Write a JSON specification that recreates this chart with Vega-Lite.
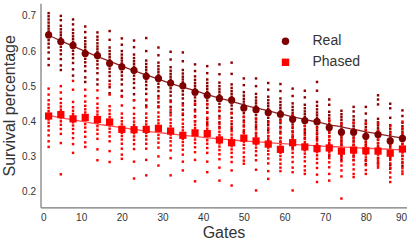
{
"$schema":"https://vega.github.io/schema/vega-lite/v6.json",
"width":366,"height":204,
"autosize":"none",
"padding":{"left":40.5,"top":3.3,"right":9.5,"bottom":33.7},
"background":"white",
"config":{"view":{"stroke":null},"font":"Liberation Sans",
"axis":{"grid":false,"ticks":false,"domainColor":"#777","domainWidth":1.2,"labelFont":"Liberation Sans","labelFontSize":10,"labelColor":"#333","labelPadding":5,"titleFont":"Liberation Sans","titleFontSize":16,"titleFontWeight":"normal","titleColor":"#333"}},
"datasets":{
"real":[
{"g":2,"v":0.708},{"g":2,"v":0.699},{"g":2,"v":0.690},{"g":2,"v":0.681},{"g":2,"v":0.672},{"g":2,"v":0.664},{"g":2,"v":0.656},{"g":2,"v":0.649},{"g":2,"v":0.640},{"g":2,"v":0.631},{"g":2,"v":0.621},{"g":2,"v":0.610},{"g":2,"v":0.596},{"g":2,"v":0.578},{"g":2,"v":0.560},
{"g":5,"v":0.700},{"g":5,"v":0.688},{"g":5,"v":0.672},{"g":5,"v":0.662},{"g":5,"v":0.653},{"g":5,"v":0.645},{"g":5,"v":0.637},{"g":5,"v":0.630},{"g":5,"v":0.621},{"g":5,"v":0.612},{"g":5,"v":0.602},{"g":5,"v":0.591},{"g":5,"v":0.577},{"g":5,"v":0.559},{"g":5,"v":0.546},
{"g":8,"v":0.690},{"g":8,"v":0.676},{"g":8,"v":0.661},{"g":8,"v":0.651},{"g":8,"v":0.642},{"g":8,"v":0.634},{"g":8,"v":0.626},{"g":8,"v":0.619},{"g":8,"v":0.610},{"g":8,"v":0.601},{"g":8,"v":0.591},{"g":8,"v":0.580},{"g":8,"v":0.566},{"g":8,"v":0.548},{"g":8,"v":0.530},
{"g":11,"v":0.670},{"g":11,"v":0.654},{"g":11,"v":0.638},{"g":11,"v":0.628},{"g":11,"v":0.619},{"g":11,"v":0.611},{"g":11,"v":0.603},{"g":11,"v":0.596},{"g":11,"v":0.587},{"g":11,"v":0.578},{"g":11,"v":0.568},{"g":11,"v":0.557},{"g":11,"v":0.543},{"g":11,"v":0.525},{"g":11,"v":0.512},
{"g":14,"v":0.653},{"g":14,"v":0.641},{"g":14,"v":0.632},{"g":14,"v":0.622},{"g":14,"v":0.613},{"g":14,"v":0.605},{"g":14,"v":0.597},{"g":14,"v":0.590},{"g":14,"v":0.581},{"g":14,"v":0.572},{"g":14,"v":0.562},{"g":14,"v":0.551},{"g":14,"v":0.537},{"g":14,"v":0.519},{"g":14,"v":0.505},
{"g":17,"v":0.657},{"g":17,"v":0.632},{"g":17,"v":0.610},{"g":17,"v":0.600},{"g":17,"v":0.591},{"g":17,"v":0.583},{"g":17,"v":0.575},{"g":17,"v":0.568},{"g":17,"v":0.559},{"g":17,"v":0.550},{"g":17,"v":0.540},{"g":17,"v":0.529},{"g":17,"v":0.515},{"g":17,"v":0.497},{"g":17,"v":0.480},
{"g":20,"v":0.636},{"g":20,"v":0.618},{"g":20,"v":0.600},{"g":20,"v":0.590},{"g":20,"v":0.581},{"g":20,"v":0.573},{"g":20,"v":0.565},{"g":20,"v":0.558},{"g":20,"v":0.549},{"g":20,"v":0.540},{"g":20,"v":0.530},{"g":20,"v":0.519},{"g":20,"v":0.505},{"g":20,"v":0.487},{"g":20,"v":0.472},
{"g":23,"v":0.630},{"g":23,"v":0.611},{"g":23,"v":0.590},{"g":23,"v":0.580},{"g":23,"v":0.571},{"g":23,"v":0.563},{"g":23,"v":0.555},{"g":23,"v":0.548},{"g":23,"v":0.539},{"g":23,"v":0.530},{"g":23,"v":0.520},{"g":23,"v":0.509},{"g":23,"v":0.495},{"g":23,"v":0.477},{"g":23,"v":0.460},
{"g":26,"v":0.637},{"g":26,"v":0.600},{"g":26,"v":0.573},{"g":26,"v":0.563},{"g":26,"v":0.554},{"g":26,"v":0.546},{"g":26,"v":0.538},{"g":26,"v":0.531},{"g":26,"v":0.522},{"g":26,"v":0.513},{"g":26,"v":0.503},{"g":26,"v":0.492},{"g":26,"v":0.478},{"g":26,"v":0.460},{"g":26,"v":0.445},
{"g":29,"v":0.610},{"g":29,"v":0.588},{"g":29,"v":0.567},{"g":29,"v":0.557},{"g":29,"v":0.548},{"g":29,"v":0.540},{"g":29,"v":0.532},{"g":29,"v":0.525},{"g":29,"v":0.516},{"g":29,"v":0.507},{"g":29,"v":0.497},{"g":29,"v":0.486},{"g":29,"v":0.472},{"g":29,"v":0.454},{"g":29,"v":0.440},
{"g":32,"v":0.598},{"g":32,"v":0.576},{"g":32,"v":0.554},{"g":32,"v":0.544},{"g":32,"v":0.535},{"g":32,"v":0.527},{"g":32,"v":0.519},{"g":32,"v":0.512},{"g":32,"v":0.503},{"g":32,"v":0.494},{"g":32,"v":0.484},{"g":32,"v":0.473},{"g":32,"v":0.459},{"g":32,"v":0.441},{"g":32,"v":0.425},
{"g":35,"v":0.596},{"g":35,"v":0.571},{"g":35,"v":0.546},{"g":35,"v":0.536},{"g":35,"v":0.527},{"g":35,"v":0.519},{"g":35,"v":0.511},{"g":35,"v":0.504},{"g":35,"v":0.495},{"g":35,"v":0.486},{"g":35,"v":0.476},{"g":35,"v":0.465},{"g":35,"v":0.451},{"g":35,"v":0.433},{"g":35,"v":0.418},
{"g":38,"v":0.562},{"g":38,"v":0.543},{"g":38,"v":0.528},{"g":38,"v":0.518},{"g":38,"v":0.509},{"g":38,"v":0.501},{"g":38,"v":0.493},{"g":38,"v":0.486},{"g":38,"v":0.477},{"g":38,"v":0.468},{"g":38,"v":0.458},{"g":38,"v":0.447},{"g":38,"v":0.433},{"g":38,"v":0.415},{"g":38,"v":0.400},
{"g":41,"v":0.557},{"g":41,"v":0.537},{"g":41,"v":0.519},{"g":41,"v":0.509},{"g":41,"v":0.500},{"g":41,"v":0.492},{"g":41,"v":0.484},{"g":41,"v":0.477},{"g":41,"v":0.468},{"g":41,"v":0.459},{"g":41,"v":0.449},{"g":41,"v":0.438},{"g":41,"v":0.424},{"g":41,"v":0.406},{"g":41,"v":0.392},
{"g":44,"v":0.562},{"g":44,"v":0.534},{"g":44,"v":0.510},{"g":44,"v":0.500},{"g":44,"v":0.491},{"g":44,"v":0.483},{"g":44,"v":0.475},{"g":44,"v":0.468},{"g":44,"v":0.459},{"g":44,"v":0.450},{"g":44,"v":0.440},{"g":44,"v":0.429},{"g":44,"v":0.415},{"g":44,"v":0.397},{"g":44,"v":0.383},
{"g":47,"v":0.567},{"g":47,"v":0.535},{"g":47,"v":0.505},{"g":47,"v":0.495},{"g":47,"v":0.486},{"g":47,"v":0.478},{"g":47,"v":0.470},{"g":47,"v":0.463},{"g":47,"v":0.454},{"g":47,"v":0.445},{"g":47,"v":0.435},{"g":47,"v":0.424},{"g":47,"v":0.410},{"g":47,"v":0.392},{"g":47,"v":0.378},
{"g":50,"v":0.522},{"g":50,"v":0.503},{"g":50,"v":0.483},{"g":50,"v":0.473},{"g":50,"v":0.464},{"g":50,"v":0.456},{"g":50,"v":0.448},{"g":50,"v":0.441},{"g":50,"v":0.432},{"g":50,"v":0.423},{"g":50,"v":0.413},{"g":50,"v":0.402},{"g":50,"v":0.388},{"g":50,"v":0.370},{"g":50,"v":0.356},
{"g":53,"v":0.522},{"g":53,"v":0.500},{"g":53,"v":0.478},{"g":53,"v":0.468},{"g":53,"v":0.459},{"g":53,"v":0.451},{"g":53,"v":0.443},{"g":53,"v":0.436},{"g":53,"v":0.427},{"g":53,"v":0.418},{"g":53,"v":0.408},{"g":53,"v":0.397},{"g":53,"v":0.383},{"g":53,"v":0.365},{"g":53,"v":0.350},
{"g":56,"v":0.509},{"g":56,"v":0.490},{"g":56,"v":0.470},{"g":56,"v":0.460},{"g":56,"v":0.451},{"g":56,"v":0.443},{"g":56,"v":0.435},{"g":56,"v":0.428},{"g":56,"v":0.419},{"g":56,"v":0.410},{"g":56,"v":0.400},{"g":56,"v":0.389},{"g":56,"v":0.375},{"g":56,"v":0.357},{"g":56,"v":0.343},
{"g":59,"v":0.506},{"g":59,"v":0.486},{"g":59,"v":0.465},{"g":59,"v":0.455},{"g":59,"v":0.446},{"g":59,"v":0.438},{"g":59,"v":0.430},{"g":59,"v":0.423},{"g":59,"v":0.414},{"g":59,"v":0.405},{"g":59,"v":0.395},{"g":59,"v":0.384},{"g":59,"v":0.370},{"g":59,"v":0.352},{"g":59,"v":0.339},
{"g":62,"v":0.493},{"g":62,"v":0.472},{"g":62,"v":0.451},{"g":62,"v":0.441},{"g":62,"v":0.432},{"g":62,"v":0.424},{"g":62,"v":0.416},{"g":62,"v":0.409},{"g":62,"v":0.400},{"g":62,"v":0.391},{"g":62,"v":0.381},{"g":62,"v":0.370},{"g":62,"v":0.356},{"g":62,"v":0.338},{"g":62,"v":0.325},
{"g":65,"v":0.487},{"g":65,"v":0.468},{"g":65,"v":0.447},{"g":65,"v":0.437},{"g":65,"v":0.428},{"g":65,"v":0.420},{"g":65,"v":0.412},{"g":65,"v":0.405},{"g":65,"v":0.396},{"g":65,"v":0.387},{"g":65,"v":0.377},{"g":65,"v":0.366},{"g":65,"v":0.352},{"g":65,"v":0.334},{"g":65,"v":0.320},
{"g":68,"v":0.512},{"g":68,"v":0.487},{"g":68,"v":0.455},{"g":68,"v":0.444},{"g":68,"v":0.434},{"g":68,"v":0.425},{"g":68,"v":0.417},{"g":68,"v":0.409},{"g":68,"v":0.402},{"g":68,"v":0.393},{"g":68,"v":0.384},{"g":68,"v":0.374},{"g":68,"v":0.363},{"g":68,"v":0.349},{"g":68,"v":0.332},{"g":68,"v":0.318},
{"g":71,"v":0.462},{"g":71,"v":0.447},{"g":71,"v":0.427},{"g":71,"v":0.417},{"g":71,"v":0.408},{"g":71,"v":0.400},{"g":71,"v":0.392},{"g":71,"v":0.385},{"g":71,"v":0.376},{"g":71,"v":0.367},{"g":71,"v":0.357},{"g":71,"v":0.346},{"g":71,"v":0.332},{"g":71,"v":0.314},{"g":71,"v":0.302},
{"g":74,"v":0.430},{"g":74,"v":0.420},{"g":74,"v":0.412},{"g":74,"v":0.404},{"g":74,"v":0.395},{"g":74,"v":0.387},{"g":74,"v":0.379},{"g":74,"v":0.372},{"g":74,"v":0.363},{"g":74,"v":0.354},{"g":74,"v":0.344},{"g":74,"v":0.333},{"g":74,"v":0.319},{"g":74,"v":0.301},{"g":74,"v":0.290},
{"g":77,"v":0.441},{"g":77,"v":0.428},{"g":77,"v":0.414},{"g":77,"v":0.404},{"g":77,"v":0.395},{"g":77,"v":0.387},{"g":77,"v":0.379},{"g":77,"v":0.372},{"g":77,"v":0.363},{"g":77,"v":0.354},{"g":77,"v":0.344},{"g":77,"v":0.333},{"g":77,"v":0.319},{"g":77,"v":0.301},{"g":77,"v":0.290},
{"g":80,"v":0.441},{"g":80,"v":0.422},{"g":80,"v":0.402},{"g":80,"v":0.392},{"g":80,"v":0.383},{"g":80,"v":0.375},{"g":80,"v":0.367},{"g":80,"v":0.360},{"g":80,"v":0.351},{"g":80,"v":0.342},{"g":80,"v":0.332},{"g":80,"v":0.321},{"g":80,"v":0.307},{"g":80,"v":0.289},{"g":80,"v":0.278},
{"g":83,"v":0.474},{"g":83,"v":0.462},{"g":83,"v":0.448},{"g":83,"v":0.407},{"g":83,"v":0.397},{"g":83,"v":0.388},{"g":83,"v":0.380},{"g":83,"v":0.372},{"g":83,"v":0.365},{"g":83,"v":0.356},{"g":83,"v":0.347},{"g":83,"v":0.337},{"g":83,"v":0.326},{"g":83,"v":0.312},{"g":83,"v":0.294},{"g":83,"v":0.282},
{"g":86,"v":0.450},{"g":86,"v":0.437},{"g":86,"v":0.410},{"g":86,"v":0.389},{"g":86,"v":0.379},{"g":86,"v":0.370},{"g":86,"v":0.362},{"g":86,"v":0.354},{"g":86,"v":0.347},{"g":86,"v":0.338},{"g":86,"v":0.329},{"g":86,"v":0.319},{"g":86,"v":0.308},{"g":86,"v":0.294},{"g":86,"v":0.276},{"g":86,"v":0.265},
{"g":89,"v":0.431},{"g":89,"v":0.415},{"g":89,"v":0.396},{"g":89,"v":0.386},{"g":89,"v":0.377},{"g":89,"v":0.369},{"g":89,"v":0.361},{"g":89,"v":0.354},{"g":89,"v":0.345},{"g":89,"v":0.336},{"g":89,"v":0.326},{"g":89,"v":0.315},{"g":89,"v":0.301},{"g":89,"v":0.283},{"g":89,"v":0.272}
],
"phased":[
{"g":2,"v":0.493},{"g":2,"v":0.476},{"g":2,"v":0.460},{"g":2,"v":0.448},{"g":2,"v":0.438},{"g":2,"v":0.429},{"g":2,"v":0.421},{"g":2,"v":0.413},{"g":2,"v":0.405},{"g":2,"v":0.396},{"g":2,"v":0.386},{"g":2,"v":0.374},{"g":2,"v":0.360},{"g":2,"v":0.343},{"g":2,"v":0.327},
{"g":5,"v":0.500},{"g":5,"v":0.482},{"g":5,"v":0.464},{"g":5,"v":0.452},{"g":5,"v":0.442},{"g":5,"v":0.433},{"g":5,"v":0.425},{"g":5,"v":0.417},{"g":5,"v":0.409},{"g":5,"v":0.400},{"g":5,"v":0.390},{"g":5,"v":0.378},{"g":5,"v":0.364},{"g":5,"v":0.338},{"g":5,"v":0.249},
{"g":8,"v":0.515},{"g":8,"v":0.490},{"g":8,"v":0.455},{"g":8,"v":0.440},{"g":8,"v":0.430},{"g":8,"v":0.421},{"g":8,"v":0.413},{"g":8,"v":0.405},{"g":8,"v":0.397},{"g":8,"v":0.388},{"g":8,"v":0.378},{"g":8,"v":0.366},{"g":8,"v":0.352},{"g":8,"v":0.335},{"g":8,"v":0.310},
{"g":11,"v":0.490},{"g":11,"v":0.472},{"g":11,"v":0.456},{"g":11,"v":0.444},{"g":11,"v":0.434},{"g":11,"v":0.425},{"g":11,"v":0.417},{"g":11,"v":0.409},{"g":11,"v":0.401},{"g":11,"v":0.392},{"g":11,"v":0.382},{"g":11,"v":0.370},{"g":11,"v":0.356},{"g":11,"v":0.340},{"g":11,"v":0.327},
{"g":14,"v":0.488},{"g":14,"v":0.466},{"g":14,"v":0.450},{"g":14,"v":0.438},{"g":14,"v":0.428},{"g":14,"v":0.419},{"g":14,"v":0.411},{"g":14,"v":0.403},{"g":14,"v":0.395},{"g":14,"v":0.386},{"g":14,"v":0.376},{"g":14,"v":0.364},{"g":14,"v":0.350},{"g":14,"v":0.320},{"g":14,"v":0.289},
{"g":17,"v":0.505},{"g":17,"v":0.476},{"g":17,"v":0.443},{"g":17,"v":0.431},{"g":17,"v":0.421},{"g":17,"v":0.412},{"g":17,"v":0.404},{"g":17,"v":0.396},{"g":17,"v":0.388},{"g":17,"v":0.379},{"g":17,"v":0.369},{"g":17,"v":0.357},{"g":17,"v":0.343},{"g":17,"v":0.315},{"g":17,"v":0.284},
{"g":20,"v":0.470},{"g":20,"v":0.445},{"g":20,"v":0.422},{"g":20,"v":0.410},{"g":20,"v":0.400},{"g":20,"v":0.391},{"g":20,"v":0.383},{"g":20,"v":0.375},{"g":20,"v":0.367},{"g":20,"v":0.358},{"g":20,"v":0.348},{"g":20,"v":0.336},{"g":20,"v":0.322},{"g":20,"v":0.305},{"g":20,"v":0.293},
{"g":23,"v":0.460},{"g":23,"v":0.438},{"g":23,"v":0.421},{"g":23,"v":0.409},{"g":23,"v":0.399},{"g":23,"v":0.390},{"g":23,"v":0.382},{"g":23,"v":0.374},{"g":23,"v":0.366},{"g":23,"v":0.357},{"g":23,"v":0.347},{"g":23,"v":0.335},{"g":23,"v":0.321},{"g":23,"v":0.285},{"g":23,"v":0.237},
{"g":26,"v":0.462},{"g":26,"v":0.440},{"g":26,"v":0.422},{"g":26,"v":0.410},{"g":26,"v":0.400},{"g":26,"v":0.391},{"g":26,"v":0.383},{"g":26,"v":0.375},{"g":26,"v":0.367},{"g":26,"v":0.358},{"g":26,"v":0.348},{"g":26,"v":0.336},{"g":26,"v":0.322},{"g":26,"v":0.290},{"g":26,"v":0.246},
{"g":29,"v":0.465},{"g":29,"v":0.443},{"g":29,"v":0.425},{"g":29,"v":0.413},{"g":29,"v":0.403},{"g":29,"v":0.394},{"g":29,"v":0.386},{"g":29,"v":0.378},{"g":29,"v":0.370},{"g":29,"v":0.361},{"g":29,"v":0.351},{"g":29,"v":0.339},{"g":29,"v":0.325},{"g":29,"v":0.300},{"g":29,"v":0.274},
{"g":32,"v":0.455},{"g":32,"v":0.433},{"g":32,"v":0.417},{"g":32,"v":0.405},{"g":32,"v":0.395},{"g":32,"v":0.386},{"g":32,"v":0.378},{"g":32,"v":0.370},{"g":32,"v":0.362},{"g":32,"v":0.353},{"g":32,"v":0.343},{"g":32,"v":0.331},{"g":32,"v":0.317},{"g":32,"v":0.295},{"g":32,"v":0.246},
{"g":35,"v":0.445},{"g":35,"v":0.422},{"g":35,"v":0.405},{"g":35,"v":0.393},{"g":35,"v":0.383},{"g":35,"v":0.374},{"g":35,"v":0.366},{"g":35,"v":0.358},{"g":35,"v":0.350},{"g":35,"v":0.341},{"g":35,"v":0.331},{"g":35,"v":0.319},{"g":35,"v":0.305},{"g":35,"v":0.285},{"g":35,"v":0.260},
{"g":38,"v":0.450},{"g":38,"v":0.428},{"g":38,"v":0.412},{"g":38,"v":0.400},{"g":38,"v":0.390},{"g":38,"v":0.381},{"g":38,"v":0.373},{"g":38,"v":0.365},{"g":38,"v":0.357},{"g":38,"v":0.348},{"g":38,"v":0.338},{"g":38,"v":0.326},{"g":38,"v":0.312},{"g":38,"v":0.290},{"g":38,"v":0.229},
{"g":41,"v":0.448},{"g":41,"v":0.426},{"g":41,"v":0.410},{"g":41,"v":0.398},{"g":41,"v":0.388},{"g":41,"v":0.379},{"g":41,"v":0.371},{"g":41,"v":0.363},{"g":41,"v":0.355},{"g":41,"v":0.346},{"g":41,"v":0.336},{"g":41,"v":0.324},{"g":41,"v":0.310},{"g":41,"v":0.285},{"g":41,"v":0.255},
{"g":44,"v":0.430},{"g":44,"v":0.408},{"g":44,"v":0.392},{"g":44,"v":0.380},{"g":44,"v":0.370},{"g":44,"v":0.361},{"g":44,"v":0.353},{"g":44,"v":0.345},{"g":44,"v":0.337},{"g":44,"v":0.328},{"g":44,"v":0.318},{"g":44,"v":0.306},{"g":44,"v":0.292},{"g":44,"v":0.268},{"g":44,"v":0.231},
{"g":47,"v":0.422},{"g":47,"v":0.400},{"g":47,"v":0.384},{"g":47,"v":0.372},{"g":47,"v":0.362},{"g":47,"v":0.353},{"g":47,"v":0.345},{"g":47,"v":0.337},{"g":47,"v":0.329},{"g":47,"v":0.320},{"g":47,"v":0.310},{"g":47,"v":0.298},{"g":47,"v":0.284},{"g":47,"v":0.260},{"g":47,"v":0.217},
{"g":50,"v":0.432},{"g":50,"v":0.412},{"g":50,"v":0.397},{"g":50,"v":0.385},{"g":50,"v":0.375},{"g":50,"v":0.366},{"g":50,"v":0.358},{"g":50,"v":0.350},{"g":50,"v":0.342},{"g":50,"v":0.333},{"g":50,"v":0.323},{"g":50,"v":0.311},{"g":50,"v":0.298},{"g":50,"v":0.288},{"g":50,"v":0.279},
{"g":53,"v":0.428},{"g":53,"v":0.405},{"g":53,"v":0.389},{"g":53,"v":0.377},{"g":53,"v":0.367},{"g":53,"v":0.358},{"g":53,"v":0.350},{"g":53,"v":0.342},{"g":53,"v":0.334},{"g":53,"v":0.325},{"g":53,"v":0.315},{"g":53,"v":0.303},{"g":53,"v":0.289},{"g":53,"v":0.262},{"g":53,"v":0.203},
{"g":56,"v":0.418},{"g":56,"v":0.396},{"g":56,"v":0.380},{"g":56,"v":0.368},{"g":56,"v":0.358},{"g":56,"v":0.349},{"g":56,"v":0.341},{"g":56,"v":0.333},{"g":56,"v":0.325},{"g":56,"v":0.316},{"g":56,"v":0.306},{"g":56,"v":0.294},{"g":56,"v":0.280},{"g":56,"v":0.258},{"g":56,"v":0.236},
{"g":59,"v":0.400},{"g":59,"v":0.380},{"g":59,"v":0.365},{"g":59,"v":0.353},{"g":59,"v":0.343},{"g":59,"v":0.334},{"g":59,"v":0.326},{"g":59,"v":0.318},{"g":59,"v":0.310},{"g":59,"v":0.301},{"g":59,"v":0.291},{"g":59,"v":0.279},{"g":59,"v":0.268},{"g":59,"v":0.258},
{"g":62,"v":0.418},{"g":62,"v":0.398},{"g":62,"v":0.384},{"g":62,"v":0.372},{"g":62,"v":0.362},{"g":62,"v":0.353},{"g":62,"v":0.345},{"g":62,"v":0.337},{"g":62,"v":0.329},{"g":62,"v":0.320},{"g":62,"v":0.310},{"g":62,"v":0.298},{"g":62,"v":0.284},{"g":62,"v":0.268},{"g":62,"v":0.255},{"g":62,"v":0.203},
{"g":65,"v":0.405},{"g":65,"v":0.386},{"g":65,"v":0.372},{"g":65,"v":0.360},{"g":65,"v":0.350},{"g":65,"v":0.341},{"g":65,"v":0.333},{"g":65,"v":0.325},{"g":65,"v":0.317},{"g":65,"v":0.308},{"g":65,"v":0.298},{"g":65,"v":0.286},{"g":65,"v":0.272},{"g":65,"v":0.260},{"g":65,"v":0.250},
{"g":68,"v":0.400},{"g":68,"v":0.381},{"g":68,"v":0.367},{"g":68,"v":0.355},{"g":68,"v":0.345},{"g":68,"v":0.336},{"g":68,"v":0.328},{"g":68,"v":0.320},{"g":68,"v":0.312},{"g":68,"v":0.303},{"g":68,"v":0.293},{"g":68,"v":0.281},{"g":68,"v":0.267},{"g":68,"v":0.248},{"g":68,"v":0.227},
{"g":71,"v":0.402},{"g":71,"v":0.383},{"g":71,"v":0.369},{"g":71,"v":0.357},{"g":71,"v":0.347},{"g":71,"v":0.338},{"g":71,"v":0.330},{"g":71,"v":0.322},{"g":71,"v":0.314},{"g":71,"v":0.305},{"g":71,"v":0.295},{"g":71,"v":0.283},{"g":71,"v":0.269},{"g":71,"v":0.250},{"g":71,"v":0.231},
{"g":74,"v":0.393},{"g":74,"v":0.374},{"g":74,"v":0.360},{"g":74,"v":0.348},{"g":74,"v":0.338},{"g":74,"v":0.329},{"g":74,"v":0.321},{"g":74,"v":0.313},{"g":74,"v":0.305},{"g":74,"v":0.296},{"g":74,"v":0.286},{"g":74,"v":0.274},{"g":74,"v":0.260},{"g":74,"v":0.243},{"g":74,"v":0.180},
{"g":77,"v":0.396},{"g":77,"v":0.377},{"g":77,"v":0.363},{"g":77,"v":0.351},{"g":77,"v":0.341},{"g":77,"v":0.332},{"g":77,"v":0.324},{"g":77,"v":0.316},{"g":77,"v":0.308},{"g":77,"v":0.299},{"g":77,"v":0.289},{"g":77,"v":0.277},{"g":77,"v":0.263},{"g":77,"v":0.250},{"g":77,"v":0.241},
{"g":80,"v":0.394},{"g":80,"v":0.375},{"g":80,"v":0.361},{"g":80,"v":0.349},{"g":80,"v":0.339},{"g":80,"v":0.330},{"g":80,"v":0.322},{"g":80,"v":0.314},{"g":80,"v":0.306},{"g":80,"v":0.297},{"g":80,"v":0.287},{"g":80,"v":0.275},{"g":80,"v":0.261},{"g":80,"v":0.250},
{"g":83,"v":0.393},{"g":83,"v":0.374},{"g":83,"v":0.360},{"g":83,"v":0.348},{"g":83,"v":0.338},{"g":83,"v":0.329},{"g":83,"v":0.321},{"g":83,"v":0.313},{"g":83,"v":0.305},{"g":83,"v":0.296},{"g":83,"v":0.288},{"g":83,"v":0.280},{"g":83,"v":0.274},{"g":83,"v":0.268},
{"g":86,"v":0.387},{"g":86,"v":0.368},{"g":86,"v":0.354},{"g":86,"v":0.342},{"g":86,"v":0.332},{"g":86,"v":0.323},{"g":86,"v":0.315},{"g":86,"v":0.307},{"g":86,"v":0.299},{"g":86,"v":0.290},{"g":86,"v":0.280},{"g":86,"v":0.268},{"g":86,"v":0.254},{"g":86,"v":0.240},{"g":86,"v":0.227},
{"g":89,"v":0.399},{"g":89,"v":0.380},{"g":89,"v":0.366},{"g":89,"v":0.354},{"g":89,"v":0.344},{"g":89,"v":0.335},{"g":89,"v":0.327},{"g":89,"v":0.319},{"g":89,"v":0.311},{"g":89,"v":0.302},{"g":89,"v":0.292},{"g":89,"v":0.280},{"g":89,"v":0.266},{"g":89,"v":0.257},{"g":89,"v":0.250}
],
"fitReal":[
{"g":2,"v":0.645},{"g":5,"v":0.629},{"g":8,"v":0.614},{"g":11,"v":0.599},{"g":14,"v":0.584},{"g":17,"v":0.571},{"g":20,"v":0.557},{"g":23,"v":0.544},{"g":26,"v":0.532},{"g":29,"v":0.520},{"g":32,"v":0.508},{"g":35,"v":0.497},{"g":38,"v":0.487},{"g":41,"v":0.476},{"g":44,"v":0.466},{"g":47,"v":0.457},{"g":50,"v":0.447},{"g":53,"v":0.438},{"g":56,"v":0.430},{"g":59,"v":0.421},{"g":62,"v":0.413},{"g":65,"v":0.405},{"g":68,"v":0.398},{"g":71,"v":0.390},{"g":74,"v":0.384},{"g":77,"v":0.377},{"g":80,"v":0.370},{"g":83,"v":0.364},{"g":86,"v":0.358},{"g":89,"v":0.352}
],
"fitPhased":[
{"g":2,"v":0.417},{"g":5,"v":0.410},{"g":8,"v":0.404},{"g":11,"v":0.398},{"g":14,"v":0.392},{"g":17,"v":0.387},{"g":20,"v":0.382},{"g":23,"v":0.377},{"g":26,"v":0.372},{"g":29,"v":0.368},{"g":32,"v":0.364},{"g":35,"v":0.360},{"g":38,"v":0.357},{"g":41,"v":0.353},{"g":44,"v":0.350},{"g":47,"v":0.347},{"g":50,"v":0.344},{"g":53,"v":0.342},{"g":56,"v":0.339},{"g":59,"v":0.337},{"g":62,"v":0.334},{"g":65,"v":0.332},{"g":68,"v":0.330},{"g":71,"v":0.328},{"g":74,"v":0.327},{"g":77,"v":0.325},{"g":80,"v":0.323},{"g":83,"v":0.322},{"g":86,"v":0.320},{"g":89,"v":0.319}
],
"means":[
{"g":2,"s":"Real","v":0.646},{"g":5,"s":"Real","v":0.627},{"g":8,"s":"Real","v":0.616},{"g":11,"s":"Real","v":0.593},{"g":14,"s":"Real","v":0.587},{"g":17,"s":"Real","v":0.565},{"g":20,"s":"Real","v":0.555},{"g":23,"s":"Real","v":0.545},{"g":26,"s":"Real","v":0.528},{"g":29,"s":"Real","v":0.522},{"g":32,"s":"Real","v":0.509},{"g":35,"s":"Real","v":0.501},{"g":38,"s":"Real","v":0.483},{"g":41,"s":"Real","v":0.474},{"g":44,"s":"Real","v":0.465},{"g":47,"s":"Real","v":0.460},{"g":50,"s":"Real","v":0.438},{"g":53,"s":"Real","v":0.433},{"g":56,"s":"Real","v":0.425},{"g":59,"s":"Real","v":0.420},{"g":62,"s":"Real","v":0.406},{"g":65,"s":"Real","v":0.402},{"g":68,"s":"Real","v":0.399},{"g":71,"s":"Real","v":0.382},{"g":74,"s":"Real","v":0.369},{"g":77,"s":"Real","v":0.369},{"g":80,"s":"Real","v":0.357},{"g":83,"s":"Real","v":0.362},{"g":86,"s":"Real","v":0.344},{"g":89,"s":"Real","v":0.351},
{"g":2,"s":"Phased","v":0.415},{"g":5,"s":"Phased","v":0.419},{"g":8,"s":"Phased","v":0.407},{"g":11,"s":"Phased","v":0.411},{"g":14,"s":"Phased","v":0.405},{"g":17,"s":"Phased","v":0.398},{"g":20,"s":"Phased","v":0.377},{"g":23,"s":"Phased","v":0.376},{"g":26,"s":"Phased","v":0.377},{"g":29,"s":"Phased","v":0.380},{"g":32,"s":"Phased","v":0.372},{"g":35,"s":"Phased","v":0.360},{"g":38,"s":"Phased","v":0.367},{"g":41,"s":"Phased","v":0.365},{"g":44,"s":"Phased","v":0.347},{"g":47,"s":"Phased","v":0.339},{"g":50,"s":"Phased","v":0.352},{"g":53,"s":"Phased","v":0.344},{"g":56,"s":"Phased","v":0.335},{"g":59,"s":"Phased","v":0.320},{"g":62,"s":"Phased","v":0.339},{"g":65,"s":"Phased","v":0.327},{"g":68,"s":"Phased","v":0.322},{"g":71,"s":"Phased","v":0.324},{"g":74,"s":"Phased","v":0.315},{"g":77,"s":"Phased","v":0.318},{"g":80,"s":"Phased","v":0.316},{"g":83,"s":"Phased","v":0.315},{"g":86,"s":"Phased","v":0.309},{"g":89,"s":"Phased","v":0.321}
]
},
"encoding":{
"x":{"field":"g","type":"quantitative","title":"Gates","scale":{"domain":[0,90],"nice":false,"zero":false},"axis":{"values":[0,10,20,30,40,50,60,70,80,90],"titlePadding":2}},
"y":{"field":"v","type":"quantitative","title":"Survival percentage","scale":{"domain":[0.155,0.736],"nice":false,"zero":false},"axis":{"values":[0.2,0.3,0.4,0.5,0.6,0.7],"format":".1f","titlePadding":4}}
},
"layer":[
{"data":{"name":"real"},"mark":{"type":"square","size":6,"color":"#8B0000","opacity":1}},
{"data":{"name":"phased"},"mark":{"type":"square","size":6,"color":"#FF0000","opacity":1}},
{"data":{"name":"fitReal"},"mark":{"type":"line","color":"#8B2222","strokeWidth":1.3,"interpolate":"monotone"}},
{"data":{"name":"fitPhased"},"mark":{"type":"line","color":"#FF5050","strokeWidth":1.3,"interpolate":"monotone"}},
{"data":{"name":"means"},"mark":{"type":"point","filled":true,"opacity":1,"size":52},
 "encoding":{
  "color":{"field":"s","type":"nominal","scale":{"domain":["Real","Phased"],"range":["#7E0000","#FF0000"]},
   "legend":{"title":null,"orient":"none","legendX":238,"legendY":31,"labelFontSize":14,"labelColor":"#333","labelFont":"Liberation Sans","labelOffset":20,"symbolSize":55,"rowPadding":7,"symbolStrokeWidth":0}},
  "shape":{"field":"s","type":"nominal","scale":{"domain":["Real","Phased"],"range":["circle","square"]}}
 }}
]
}
